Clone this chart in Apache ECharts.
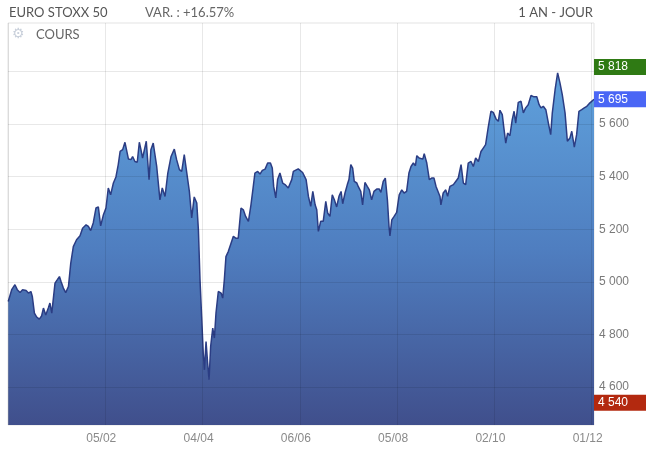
<!DOCTYPE html>
<html>
<head>
<meta charset="utf-8">
<script src="https://cdn.jsdelivr.net/npm/echarts@6/dist/echarts.min.js"></script>
<style>
html,body{margin:0;padding:0;background:#fff;}
#chart{width:650px;height:451px;}
</style>
</head>
<body>
<div id="chart"></div>
<script>
// Trading-day index (0 = 02/12/2024) and closing values of the EURO STOXX 50
var days = [0.1,1.6,3.0,4.0,5.2,6.3,7.8,8.8,9.9,10.5,11.4,12.4,13.5,14.5,15.3,16.3,17.4,18.1,18.9,20.3,
21.3,22.2,22.9,23.9,24.9,26.1,27.1,28.2,29.6,31.1,32.2,33.7,34.7,35.7,36.8,38.0,39.0,40.0,41.2,42.3,
43.3,44.3,45.5,46.6,47.6,48.4,49.5,50.5,52.0,53.1,53.8,54.8,55.8,56.7,57.4,58.1,59.7,
60.9,61.7,62.7,64.2,65.6,66.6,67.8,69.0,70.4,71.8,72.8,74.0,75.0,76.1,77.2,78.3,79.3,80.4,81.5,82.2,
82.9,83.6,84.3,84.8,85.5,86.2,86.8,87.5,88.4,89.1,89.8,90.8,92.0,92.7,93.4,94.1,95.1,96.3,97.3,98.3,
99.4,100.6,101.6,102.6,103.8,104.9,105.9,106.6,107.8,108.8,109.8,111.0,112.1,113.3,114.1,114.7,115.6,116.4,117.4,118.6,
119.6,121.0,122.5,
123.2,125.3,127.2,128.7,129.7,130.7,131.6,132.6,133.3,134.0,135.0,136.1,137.2,138.0,139.0,140.0,140.9,141.9,142.9,143.8,
144.5,145.5,146.5,147.2,148.0,148.8,149.5,150.6,151.2,152.3,153.1,154.1,155.1,156.0,157.0,158.0,159.2,160.3,161.0,162.0,
162.9,163.8,164.5,164.9,165.7,166.7,167.8,168.9,170.0,171.0,172.1,173.1,174.0,175.0,175.9,176.5,177.5,178.3,179.1,179.7,
180.8,181.9,182.9,183.9,184.8,185.5,186.5,
186.9,187.9,189.0,189.8,190.8,192.3,193.3,194.4,195.6,196.6,197.6,198.7,199.9,200.9,201.9,203.1,204.2,205.2,206.2,207.4,
208.5,209.5,210.7,211.7,212.4,213.4,214.1,214.9,215.7,216.7,217.7,218.5,219.2,220.3,221.5,222.5,223.5,224.6,225.8,227.1,
228.3,229.3,230.1,231.1,232.2,233.3,234.3,235.0,236.2,237.3,238.3,239.3,240.5,241.5,242.6,243.4,244.5,245.5,246.5,247.7,
248.8,249.9,250.9,253];

var closes = [4925,4970,4989,4970,4959,4970,4967,4957,4963,4944,4881,4866,4858,4870,4900,4874,4900,4919,4881,4995,
5008,5020,5001,4976,4959,4982,5071,5134,5160,5175,5204,5217,5211,5195,5224,5281,5285,5213,5255,5281,
5357,5331,5376,5399,5446,5496,5503,5531,5467,5465,5477,5458,5455,5531,5503,5471,5535,
5389,5503,5528,5439,5312,5357,5325,5414,5477,5505,5465,5427,5420,5484,5414,5344,5243,5323,5300,5198,
5008,4868,4728,4665,4773,4690,4627,4754,4824,4786,4881,4963,4957,4938,5008,5096,5115,5147,5173,5166,
5166,5281,5274,5249,5230,5293,5363,5414,5420,5410,5424,5429,5452,5452,5433,5363,5319,5389,5414,5376,
5370,5357,5389,
5420,5430,5416,5389,5325,5287,5344,5293,5274,5192,5230,5230,5306,5262,5249,5331,5312,5285,5325,5344,
5297,5338,5370,5389,5446,5433,5382,5376,5363,5344,5293,5378,5363,5350,5312,5344,5353,5353,5340,5382,
5395,5312,5211,5175,5236,5249,5264,5331,5350,5338,5344,5414,5439,5452,5442,5480,5471,5477,5467,5488,
5452,5389,5395,5395,5363,5357,5325,
5293,5338,5350,5325,5363,5370,5382,5395,5446,5376,5370,5452,5458,5439,5471,5458,5496,5509,5522,5592,
5649,5645,5620,5611,5653,5636,5585,5528,5566,5556,5617,5649,5604,5683,5687,5643,5662,5674,5709,5704,
5704,5674,5662,5668,5655,5604,5560,5643,5731,5795,5757,5712,5643,5535,5547,5573,5513,5560,5649,5655,
5662,5668,5678,5695];

// X tick positions (trading-day index) and labels
var xTickDays = [0, 42, 84, 126, 168, 210, 252];
var xTickLabels = ['', '05/02', '04/04', '06/06', '05/08', '02/10', '01/12'];
// Y ticks
var yTicks = [4600, 4800, 5000, 5200, 5400, 5600, 5800];
// Highlighted values (max, last, min)
var tagValues = [5818, 5695, 4540];
var tagColors = ['#2f7a14', '#4a66f5', '#b3290f'];

function fmt(v) {
  var s = String(Math.round(v));
  return s.replace(/\B(?=(\d{3})+(?!\d))/g, ' ');
}

var seriesData = [];
for (var i = 0; i < Math.min(days.length, closes.length); i++) seriesData.push([days[i], closes[i]]);

var headFont = '13px Lato, "Open Sans", sans-serif';
var chart = echarts.init(document.getElementById('chart'), null, {renderer: 'canvas'});
chart.setOption({
  animation: false,
  backgroundColor: '#fff',
  grid: {left: 8, right: 56, top: 23, bottom: 26, show: true, borderColor: '#e3e3e3', borderWidth: 1, backgroundColor: 'transparent'},
  xAxis: {
    type: 'value', min: 0, max: days[days.length - 1], z: 5,
    axisLine: {show: false},
    axisTick: {show: false, customValues: xTickDays},
    splitLine: {show: true, lineStyle: {color: 'rgba(0,0,0,0.09)', width: 1}},
    axisLabel: {
      customValues: xTickDays,
      color: '#8a8a8a', fontSize: 12, fontFamily: 'Liberation Sans, Arial, sans-serif',
      margin: 8, padding: [0, 8, 0, 0],
      formatter: function (v) { var k = xTickDays.indexOf(Math.round(v)); return k >= 0 ? xTickLabels[k] : ''; }
    }
  },
  yAxis: {
    type: 'value', position: 'right', min: 4455, max: 5985, z: 5,
    axisLine: {show: false},
    axisTick: {show: false, customValues: yTicks},
    splitLine: {show: true, lineStyle: {color: 'rgba(0,0,0,0.09)', width: 1}},
    axisLabel: {
      customValues: yTicks,
      color: '#7a7a7a', fontSize: 12, fontFamily: 'Liberation Sans, Arial, sans-serif',
      margin: 5, verticalAlign: 'middle', padding: [0, 0, 3, 0],
      formatter: function (v) { return fmt(v); }
    }
  },
  series: [{
    type: 'line',
    data: seriesData,
    symbol: 'none',
    z: 2,
    lineStyle: {color: '#2b3d84', width: 1.5},
    areaStyle: {
      opacity: 1,
      color: new echarts.graphic.LinearGradient(0, 0, 0, 1, [
        {offset: 0, color: '#5fa1dc'},
        {offset: 0.5, color: '#4f7ec0'},
        {offset: 1, color: '#404f8c'}
      ])
    }
  }]
});

// Header texts and value tags on the right (tags positioned through the axis scales)
var plotRight = chart.convertToPixel({xAxisIndex: 0}, days[days.length - 1]);
var elements = [
  {type: 'text', left: 9, top: 6, style: {text: 'EURO STOXX 50', fill: '#555', font: headFont}},
  {type: 'text', left: 145, top: 6, style: {text: 'VAR. : +16.57%', fill: '#666', font: headFont}},
  {type: 'text', right: 57, top: 6, style: {text: '1 AN - JOUR', fill: '#555', font: headFont}},
  {type: 'text', left: 12, top: 27, style: {text: '\u2699', fill: '#c9d0db', font: '14px "DejaVu Sans", sans-serif'}},
  {type: 'text', left: 36, top: 28, style: {text: 'COURS', fill: '#666', font: headFont}}
];
tagValues.forEach(function (v, k) {
  var y = chart.convertToPixel({yAxisIndex: 0}, v);
  elements.push({type: 'rect', z: 100, shape: {x: plotRight, y: y - 8, width: 52, height: 16}, style: {fill: tagColors[k]}});
  elements.push({type: 'text', z: 101, x: plotRight + 4, y: y, style: {text: fmt(v), fill: '#fff', font: '12px "Liberation Sans", Arial, sans-serif', verticalAlign: 'middle', textAlign: 'left'}});
});
chart.setOption({graphic: {elements: elements}});
</script>
</body>
</html>
